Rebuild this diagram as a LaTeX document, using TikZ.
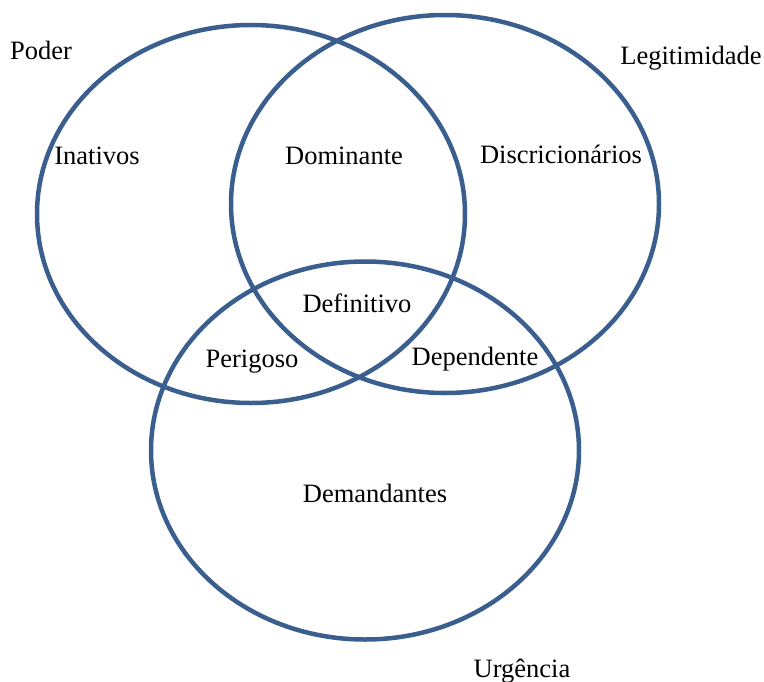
\documentclass[tikz,border=0pt]{standalone}
\usepackage{fontspec}
\setmainfont{Liberation Serif}
\usetikzlibrary{shapes,positioning}
\definecolor{setblue}{HTML}{3A5F8F}
\tikzset{
	set/.style={
		ellipse,
		draw=setblue,
		line width=4.5pt,
		minimum width=428pt,
		minimum height=378pt,
		inner sep=0pt
	},
	region/.style={
		anchor=base,
		inner sep=0pt,
		font=\fontsize{26.5}{30}\selectfont
	}
}

\begin{document}
\begin{tikzpicture}[x=1pt,y=-1pt]
		\useasboundingbox (0,0) rectangle (764,681);
		% conjuntos
		\node [set] (poder) at (251,214) {};
		\node [set] (legit) at (445,204) {};
		\node [set] (urg) at (365,450.5) {};
		% nomes dos conjuntos
		\node [region] (tpoder) at (41,59) {Poder};
		\node [region] (tlegit) at (691,64) {Legitimidade};
		\node [region] (turg) at (522,677) {Urgência};
		% regioes
		\node [region] (inativos) at (97,164) {Inativos};
		\node [region] (dominante) at (344,164) {Dominante};
		\node [region] (discr) at (561,163) {Discricionários};
		\node [region] (definitivo) at (357,312) {Definitivo};
		\node [region] (perigoso) at (252,367) {Perigoso};
		\node [region] (dependente) at (475,365) {Dependente};
		\node [region] (demand) at (375,502) {Demandantes};
		\end{tikzpicture}
\end{document}
